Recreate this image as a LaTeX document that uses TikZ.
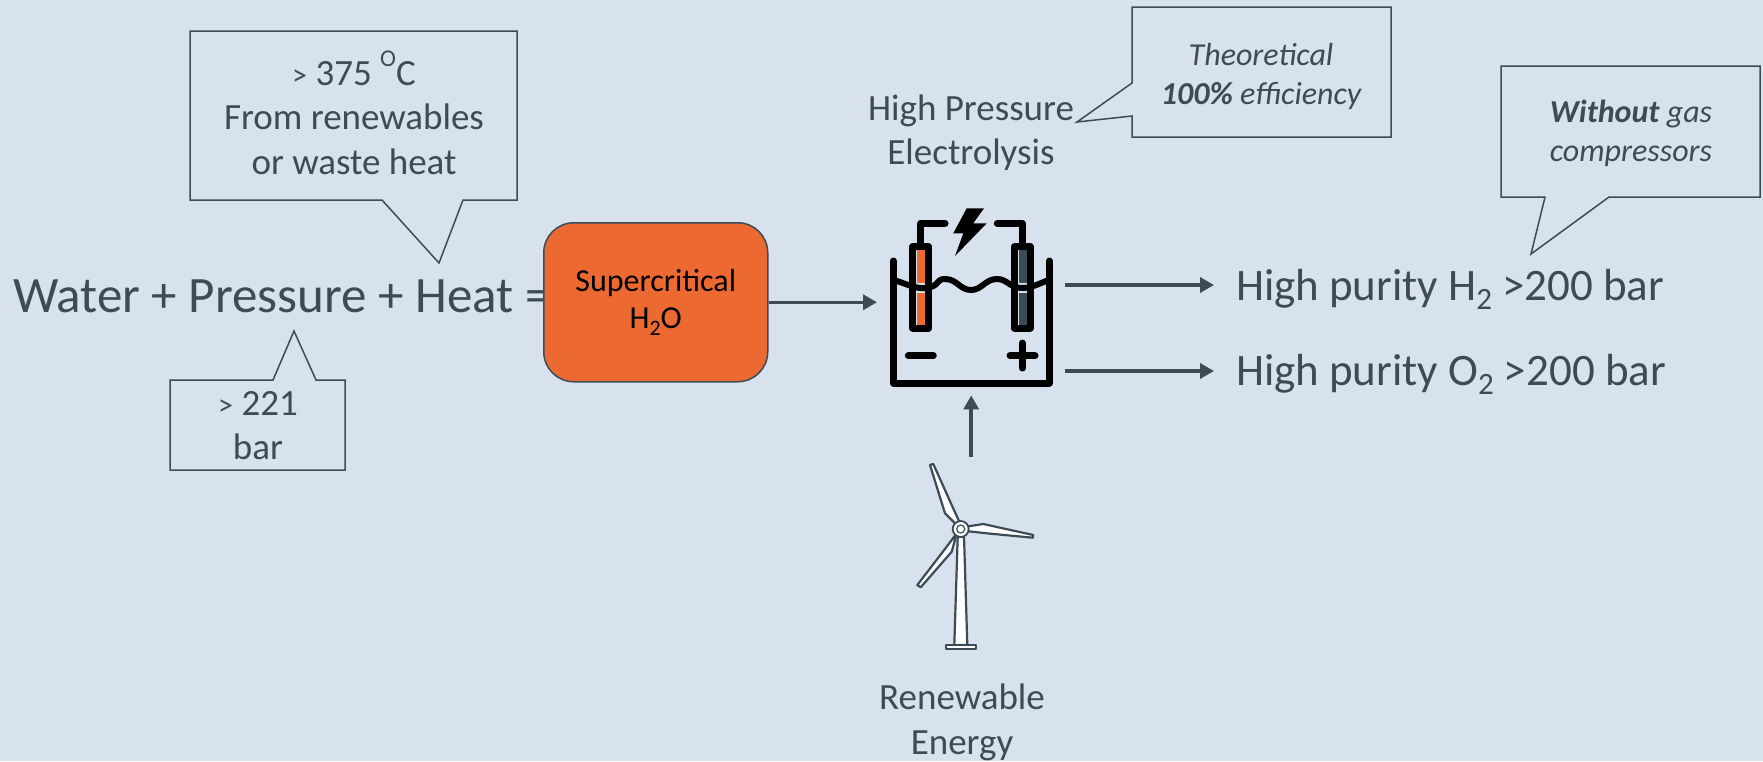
\documentclass[tikz,border=0pt]{standalone}
\usepackage{fontspec}
\setmainfont{Carlito}
\usetikzlibrary{arrows.meta}
\definecolor{bgc}{HTML}{D7E2EE}
\definecolor{ink}{HTML}{3C4C57}
\definecolor{hot}{HTML}{EC6A32}
\newcommand{\fs}[1]{\fontsize{#1}{#1}\selectfont}
\newcommand{\subb}[2]{\raisebox{-.22em}{\fs{#2}#1}}
\newcommand{\supp}[2]{\raisebox{.5em}{\fs{#2}#1}}
\tikzset{
  callout/.style={draw=ink,line width=1.5pt,line join=miter,fill=bgc},
  label/.style={text=ink,inner sep=0pt,outer sep=0pt,align=center},
  flow/.style={draw=ink,line width=3.5pt,-{Triangle[length=14pt,width=15pt]}},
  iconline/.style={draw=black,line width=7pt,line cap=round,line join=round},
  bladeline/.style={draw=ink,line width=2.2pt,fill=white,line join=round},
}
\begin{document}
\begin{tikzpicture}[x=1pt,y=-1pt]
\useasboundingbox (0,0) rectangle (1763,761);
\fill[bgc] (0,0) rectangle (1763,761);

% main equation text
\node[label,anchor=base west] (eq) at (13,312) {\fs{51}Water + Pressure + Heat =};

% callouts
\draw[callout] (190,31) -- (517,31) -- (517,200) -- (463,200) -- (439,263) -- (382,200) -- (190,200) -- cycle;
\node[label,font={\fontsize{37}{44.5}\selectfont}] (heatnote) at (354,113) {{\fs{30}>} 375 \supp{O}{24}C\\From renewables\\or waste heat};
\draw[callout] (170,380) -- (273,380) -- (294,331) -- (316,380) -- (345,380) -- (345,470) -- (170,470) -- cycle;
\node[label,font={\fontsize{37}{44}\selectfont}] (pressnote) at (258,426) {{\fs{30}>} 221\\bar};
\draw[callout] (1132,7) -- (1391,7) -- (1391,137) -- (1132,137) -- (1132,116) -- (1077,122) -- (1132,83) -- cycle;
\node[label,font={\fontsize{32}{39}\selectfont\itshape}] (effnote) at (1261,76) {Theoretical\\\textbf{100\%} efficiency};
\draw[callout] (1501,66) -- (1760,66) -- (1760,197) -- (1609,197) -- (1531,254) -- (1545,197) -- (1501,197) -- cycle;
\node[label,font={\fontsize{32}{39}\selectfont\itshape}] (gasnote) at (1631,133) {\textbf{Without} gas\\compressors};

% supercritical box
\node[draw=ink,line width=1.5pt,fill=hot,rounded corners=30pt,minimum width=224pt,minimum height=159pt,inner sep=0pt,text=black,align=center,anchor=north west,font={\fontsize{32}{39}\selectfont}] (sc) at (543,222) {\raisebox{-2pt}{Supercritical}\\H\subb{2}{22}O};

% electrolysis cell (icon frame)
\node[minimum width=164pt,minimum height=130pt,inner sep=0pt,anchor=north west] (cell) at (889,257) {};
\fill[hot] (917,250) rectangle (925,326);
\fill[ink] (1019,250) rectangle (1027,326);
\fill[bgc] (915,283) rectangle (927,293);
\fill[bgc] (1017,283) rectangle (1029,293);
\draw[iconline] (893.3,261) -- (893.3,383) -- (1049.3,383) -- (1049.3,261);
\draw[iconline] (912.7,246.7) rectangle (928.7,328);
\draw[iconline] (1014.3,246.7) rectangle (1030.3,328);
\draw[iconline] (920.7,243) -- (920.7,223.3) -- (945,223.3);
\draw[iconline] (1022.3,243) -- (1022.3,223.3) -- (997.3,223.3);
\draw[draw=black,line width=6pt,line cap=round] (893.3,280) .. controls (905,283) and (915,289) .. (925,288) .. controls (940,287) and (935,279) .. (945,279) .. controls (957,279) and (960,290) .. (971,290) .. controls (982,290) and (985,279) .. (997,279) .. controls (1007,279) and (1010,288) .. (1022,288) .. controls (1032,288) and (1040,283) .. (1049,280);
\draw[iconline] (908.3,355.7) -- (933.3,355.7);
\draw[iconline] (1010,355.7) -- (1035,355.7);
\draw[iconline] (1022.3,343) -- (1022.3,368);
\fill[black] (966.7,208.3) -- (984,208.3) -- (973.3,223.3) -- (986.7,223.3) -- (955,256) -- (963.3,233.3) -- (953.3,233.3) -- cycle;

% wind turbine
\node[inner sep=0pt,minimum size=1pt] (wind) at (960.7,529) {};
\filldraw[bladeline] (957.7,536.7) -- (964,536.7) -- (967.3,645) -- (954.3,645) -- cycle;
\filldraw[bladeline] (946,645) rectangle (975.7,649.3);
\filldraw[bladeline] (930,465) -- (933.3,464) -- (951.7,505) -- (960,523.3) -- (956.7,525) -- (945,513.3) -- cycle;
\filldraw[bladeline] (966,526.7) -- (983.3,524) -- (1033.3,535) -- (1032.7,537.7) -- (986.7,533.3) -- (966,531) -- cycle;
\filldraw[bladeline] (956.7,533.3) -- (951.7,551.7) -- (920.7,587.3) -- (917.3,585) -- (946.7,546.7) -- cycle;
\draw[draw=ink,line width=1.8pt,fill=white] (wind) circle (8pt);
\draw[draw=ink,line width=1.2pt,fill=white] (wind) circle (4pt);

% labels
\node[label,font={\fontsize{37}{44}\selectfont}] (hpe) at (971,133) {High Pressure\\Electrolysis};
\node[label,font={\fontsize{37}{45}\selectfont}] (ren) at (962,722) {Renewable\\Energy};
\node[label,anchor=base west] (h2) at (1236,300) {\fs{45}High purity H\subb{2}{31} >200 bar};
\node[label,anchor=base west] (o2) at (1236,385) {\fs{45}High purity O\subb{2}{31} >200 bar};

% connectors
\draw[flow,shorten >=12pt] (sc.east) -- (sc.east -| cell.west);
\draw[flow,shorten >=22pt] (cell.east |- 0,285) ++(12,0) -- (1236,285);
\draw[flow,shorten >=22pt] (cell.east |- 0,371) ++(12,0) -- (1236,371);
\draw[flow,shorten >=8pt] (cell.south |- 0,457) -- (cell.south);
\end{tikzpicture}
\end{document}
